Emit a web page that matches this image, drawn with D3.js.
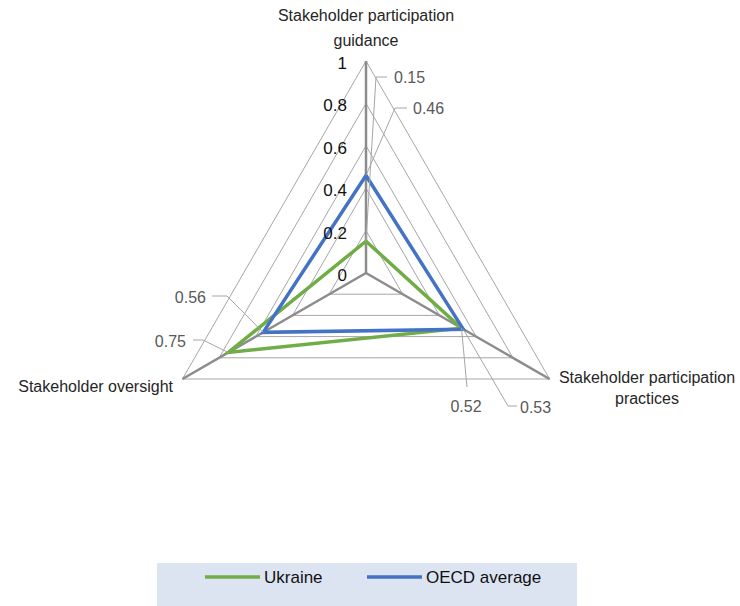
<!DOCTYPE html>
<meta charset="utf-8">
<style>

body {
  margin: 0;
  background: #fff;
}

text {
  font-family: "Liberation Sans", Arial, sans-serif;
}

.grid path {
  fill: none;
  stroke: #a6a6a6;
  stroke-width: 1px;
}

.axis line {
  stroke: #8c8c8c;
  stroke-width: 2.5px;
}

.leader {
  fill: none;
  stroke: #a6a6a6;
  stroke-width: 1px;
}

</style>
<svg width="740" height="606"></svg>
<script src="https://d3js.org/d3.v7.min.js"></script>
<script>

var axes = ["Stakeholder participation guidance", "Stakeholder participation practices", "Stakeholder oversight"];
var seriesNames = ["Ukraine", "OECD average"];
var ukraine = [0.15, 0.52, 0.75];
var oecd = [0.46, 0.53, 0.56];
var ticks = [0, 0.2, 0.4, 0.6, 0.8, 1];
var colors = ["#70ad47", "#4472c4"];

// where the data labels sit (elbow of leader, end of leader, text anchor)
var labelLayout = [
  [{elbow: [376, 77], end: [387, 77], text: [394, 77], anchor: "start"},
   {elbow: [467, 387], end: [467, 387], text: [466, 406], anchor: "middle"},
   {elbow: [203, 340], end: [193, 340], text: [186, 341], anchor: "end"}],
  [{elbow: [395, 108], end: [407, 108], text: [413, 108], anchor: "start"},
   {elbow: [508, 406], end: [517, 406], text: [520, 407], anchor: "start"},
   {elbow: [227, 296], end: [212, 296], text: [206, 297], anchor: "end"}]
];

var svg = d3.select("svg"),
    cx = 366,
    cy = 273;

var r = d3.scaleLinear().domain([0, 1]).range([0, 212]);
var angle = d3.scalePoint().domain(d3.range(axes.length + 1)).range([0, 2 * Math.PI]);

function pt(i, v) {
  var a = angle(i);
  return [cx + r(v) * Math.sin(a), cy - r(v) * Math.cos(a)];
}

var g = svg.append("g").attr("transform", "translate(" + cx + "," + cy + ")");

var radial = d3.lineRadial()
    .angle(function(d, i) { return angle(i); })
    .radius(function(d) { return r(d); })
    .curve(d3.curveLinearClosed);

// grid triangles
g.append("g")
    .attr("class", "grid")
  .selectAll("path")
  .data(ticks.slice(1))
  .enter().append("path")
    .attr("d", function(t) { return radial(axes.map(function() { return t; })); });

// axis spokes
g.append("g")
    .attr("class", "axis")
  .selectAll("line")
  .data(axes)
  .enter().append("line")
    .attr("x1", 0)
    .attr("y1", 0)
    .attr("x2", function(d, i) { return r(1) * Math.sin(angle(i)); })
    .attr("y2", function(d, i) { return -r(1) * Math.cos(angle(i)); });

// leader lines
var series = [ukraine, oecd];
series.forEach(function(vals, s) {
  svg.append("g").selectAll("path")
    .data(vals)
    .enter().append("path")
      .attr("class", "leader")
      .attr("d", function(v, i) {
        var p = pt(i, v), L = labelLayout[s][i];
        return "M" + p + "L" + L.elbow + "L" + L.end;
      });
});

// series lines
g.append("g").selectAll("path")
  .data(series)
  .enter().append("path")
    .attr("d", radial)
    .attr("fill", "none")
    .attr("stroke", function(d, i) { return colors[i]; })
    .attr("stroke-width", 3.5)
    .attr("stroke-linejoin", "miter");

// tick labels
g.append("g").selectAll("text")
  .data(ticks)
  .enter().append("text")
    .attr("x", -19)
    .attr("y", function(t) { return -r(t) + 8; })
    .attr("text-anchor", "end")
    .attr("font-size", 17)
    .attr("fill", "#111")
    .text(function(t) { return d3.format("")(t); });

// data labels
series.forEach(function(vals, s) {
  svg.append("g").selectAll("text")
    .data(vals)
    .enter().append("text")
      .attr("x", function(v, i) { return labelLayout[s][i].text[0]; })
      .attr("y", function(v, i) { return labelLayout[s][i].text[1] + 6; })
      .attr("text-anchor", function(v, i) { return labelLayout[s][i].anchor; })
      .attr("font-size", 16)
      .attr("fill", "#595959")
      .text(function(v) { return v.toFixed(2); });
});

// axis titles
var titles = svg.append("g").attr("font-size", 16).attr("fill", "#262626");
titles.append("text").attr("x", 366).attr("y", 21).attr("text-anchor", "middle").text("Stakeholder participation");
titles.append("text").attr("x", 366).attr("y", 46).attr("text-anchor", "middle").text("guidance");
titles.append("text").attr("x", 647).attr("y", 383).attr("text-anchor", "middle").text("Stakeholder participation");
titles.append("text").attr("x", 647).attr("y", 404).attr("text-anchor", "middle").text("practices");
titles.append("text").attr("x", 173).attr("y", 392).attr("text-anchor", "end").text(axes[2]);

// legend
var legend = svg.append("g");
legend.append("rect")
    .attr("x", 157)
    .attr("y", 563)
    .attr("width", 420)
    .attr("height", 43)
    .attr("fill", "#dde4f1");

var item = legend.selectAll(".item")
  .data(seriesNames)
  .enter().append("g")
    .attr("transform", function(d, i) { return "translate(" + (205 + i * 162) + ",577)"; });

item.append("line")
    .attr("x1", 0)
    .attr("x2", 55)
    .attr("stroke", function(d, i) { return colors[i]; })
    .attr("stroke-width", 3.5);

item.append("text")
    .attr("x", 59)
    .attr("y", 6)
    .attr("font-size", 17)
    .attr("fill", "#111")
    .text(function(d) { return d; });

</script>
